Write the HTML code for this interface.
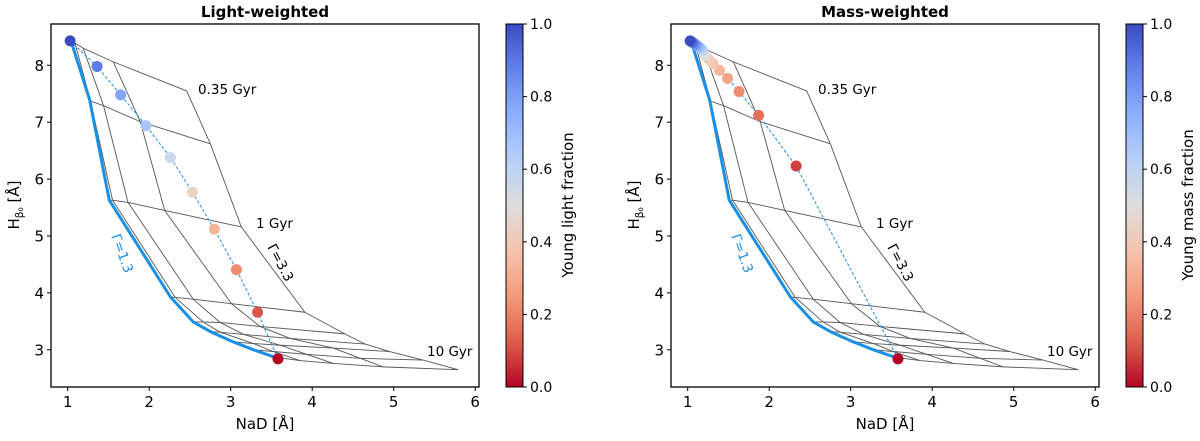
<!DOCTYPE html>
<html><head><meta charset="utf-8"><style>
body{margin:0;background:#fff;}
svg text{font-family:"DejaVu Sans","Liberation Sans",sans-serif;}
</style></head><body>
<svg id="fig" width="1200" height="436" viewBox="0 0 1200 436" xmlns="http://www.w3.org/2000/svg"></svg>
<script>
// ---- data ----
const xTicks=[1,2,3,4,5,6];
const yTicks=[3,4,5,6,7,8];
const cbTicks=[0.0,0.2,0.4,0.6,0.8,1.0];
// model grid: rows = ages, columns = Gamma (1.3 ... 3.3)
const gridX=[
[1.04,1.09,1.19,1.56,2.46],
[1.27,1.28,1.44,1.89,2.75],
[1.51,1.55,1.74,2.19,3.13],
[2.26,2.32,2.54,3.01,3.91],
[2.54,2.66,2.87,3.36,4.40],
[2.75,2.87,3.16,3.73,4.65],
[3.03,3.28,3.61,4.26,4.95],
[3.28,3.52,3.93,4.59,5.36],
[3.54,3.85,4.26,4.87,5.79]];
const gridY=[
[8.43,8.39,8.30,8.06,7.55],
[7.39,7.37,7.29,7.01,6.62],
[5.63,5.63,5.59,5.45,5.16],
[3.93,3.92,3.89,3.81,3.66],
[3.49,3.49,3.48,3.41,3.28],
[3.32,3.31,3.27,3.20,3.10],
[3.14,3.11,3.08,3.03,2.97],
[3.00,2.97,2.92,2.85,2.82],
[2.87,2.81,2.76,2.70,2.65]];
const lightX=[1.03,1.36,1.65,1.96,2.26,2.53,2.80,3.07,3.33,3.58];
const lightY=[8.43,7.98,7.48,6.94,6.38,5.77,5.12,4.41,3.66,2.84];
const lightF=[1.0,0.89,0.78,0.67,0.56,0.44,0.33,0.22,0.11,0.0];
const massX=[1.03,1.06,1.09,1.12,1.15,1.18,1.21,1.26,1.31,1.39,1.49,1.63,1.87,2.33,3.58];
const massY=[8.43,8.40,8.37,8.34,8.31,8.27,8.17,8.10,8.03,7.91,7.77,7.54,7.12,6.23,2.84];
const massF=[1.0,0.92,0.84,0.76,0.68,0.6,0.5,0.42,0.38,0.33,0.28,0.22,0.16,0.08,0.0];

const NS="http://www.w3.org/2000/svg";
const svg=document.getElementById('fig');
function mk(tag,attrs,parent){const e=document.createElementNS(NS,tag);for(const k in attrs)e.setAttribute(k,attrs[k]);(parent||svg).appendChild(e);return e;}
const cw=[[0,[59,76,192]],[0.125,[98,130,234]],[0.25,[141,176,254]],[0.375,[184,208,249]],[0.5,[221,221,221]],[0.625,[245,196,173]],[0.75,[244,154,123]],[0.875,[222,96,77]],[1,[180,4,38]]];
function coolwarmR(f){const t=1-f;for(let i=1;i<cw.length;i++){if(t<=cw[i][0]){const a=cw[i-1],b=cw[i];const u=(t-a[0])/(b[0]-a[0]);const c=a[1].map((v,j)=>Math.round(v+(b[1][j]-v)*u));return `rgb(${c[0]},${c[1]},${c[2]})`;}}return 'rgb(180,4,38)';}

function panel(off,title,ptsX,ptsY,ptsF,cbLabel,key){
  const L=51+off,R=479+off,T=24,B=387;
  const sx=v=>67.7+off+(v-1)*81.5;
  const sy=v=>65.3-(v-8)*56.9;
  const g=mk('g',{});
  
  
  const t=mk('text',{x:(L+R)/2,y:17,'text-anchor':'middle','font-size':'15','font-weight':'bold'},g);t.textContent=title;
  
  for(let c=1;c<5;c++){
    const p=gridX.map((r,i)=>sx(r[c])+','+sy(gridY[i][c])).join(' ');
    const pl=mk('polyline',{points:p,fill:'none',stroke:'#555','stroke-width':0.9,'stroke-linejoin':'round'},g);
    
    
  }
  for(let r=0;r<gridX.length;r++){
    const p=gridX[r].map((v,c)=>sx(v)+','+sy(gridY[r][c])).join(' ');
    const pl=mk('polyline',{points:p,fill:'none',stroke:'#555','stroke-width':0.9},g);
    
    
  }
  const bp=gridX.map((r,i)=>sx(r[0])+','+sy(gridY[i][0])).join(' ');
  const bl=mk('polyline',{points:bp,fill:'none',stroke:'#1a8fe6','stroke-width':3,'stroke-linejoin':'round'},g);
  
  
  const dp=ptsX.map((v,i)=>sx(v)+','+sy(ptsY[i])).join(' ');
  const dl=mk('polyline',{points:dp,fill:'none',stroke:'#1a8fe6','stroke-width':1,'stroke-dasharray':'3,2'},g);
  
  
  for(let i=ptsX.length-1;i>=0;i--){
    const c=mk('circle',{cx:sx(ptsX[i]),cy:sy(ptsY[i]),r:5.5,fill:coolwarmR(ptsF[i])},g);
    
    
  }
  const lbls=[['0.35 Gyr',198+off,94],['1 Gyr',256+off,228],['10 Gyr',427+off,356]];
  for(const l of lbls){const e=mk('text',{x:l[1],y:l[2],'font-size':'13.5'},g);e.textContent=l[0];
    }
  const g1=mk('text',{x:0,y:0,'font-size':'13.5',fill:'#1a8fe6',transform:`translate(${111+off},${236}) rotate(70)`},g);g1.textContent='Γ=1.3';
  
  const g2=mk('text',{x:0,y:0,'font-size':'13.5',transform:`translate(${267+off},${247}) rotate(62)`},g);g2.textContent='Γ=3.3';
  
  const fr=mk('rect',{x:L,y:T,width:R-L,height:B-T,fill:'none',stroke:'#000','stroke-width':1.3},g);
  
  for(const v of xTicks){mk('line',{x1:sx(v),x2:sx(v),y1:B,y2:B+4,stroke:'#000'},g);
    const e=mk('text',{x:sx(v),y:B+20,'text-anchor':'middle','font-size':'15'},g);e.textContent=v;
    }
  for(const v of yTicks){mk('line',{x1:L-4,x2:L,y1:sy(v),y2:sy(v),stroke:'#000'},g);
    const e=mk('text',{x:L-7,y:sy(v)+5.5,'text-anchor':'end','font-size':'15'},g);e.textContent=v;
    }
  const xl=mk('text',{x:(L+R)/2,y:429,'text-anchor':'middle','font-size':'15'},g);xl.textContent='NaD [Å]';
  
  const yl=mk('text',{x:0,y:0,'text-anchor':'middle','font-size':'15',transform:`translate(${19+off},205) rotate(-90)`},g);
  
  yl.innerHTML='H<tspan font-size="10.5" dy="4">β₀</tspan><tspan dy="-4"> [Å]</tspan>';
  const cx=506+off,cwid=17;
  const gid='grad'+key;
  const defs=mk('defs',{},g);const lg=mk('linearGradient',{id:gid,x1:0,y1:1,x2:0,y2:0},defs);
  for(let i=0;i<=20;i++){mk('stop',{offset:i/20,'stop-color':coolwarmR(i/20)},lg);}
  const cb=mk('rect',{x:cx,y:T,width:cwid,height:B-T,fill:`url(#${gid})`,stroke:'#000','stroke-width':1},g);
  
  for(const v of cbTicks){const y=B-v*(B-T);mk('line',{x1:cx+cwid,x2:cx+cwid+4,y1:y,y2:y,stroke:'#000'},g);
    const e=mk('text',{x:cx+cwid+7,y:y+5,'font-size':'14'},g);e.textContent=v.toFixed(1);
    }
  const cl=mk('text',{x:0,y:0,'text-anchor':'middle','font-size':'15',transform:`translate(${573+off},205) rotate(-90)`},g);cl.textContent=cbLabel;
  
}
panel(0,'Light-weighted',lightX,lightY,lightF,'Young light fraction','light');
panel(620,'Mass-weighted',massX,massY,massF,'Young mass fraction','mass');
</script>
</body></html>
